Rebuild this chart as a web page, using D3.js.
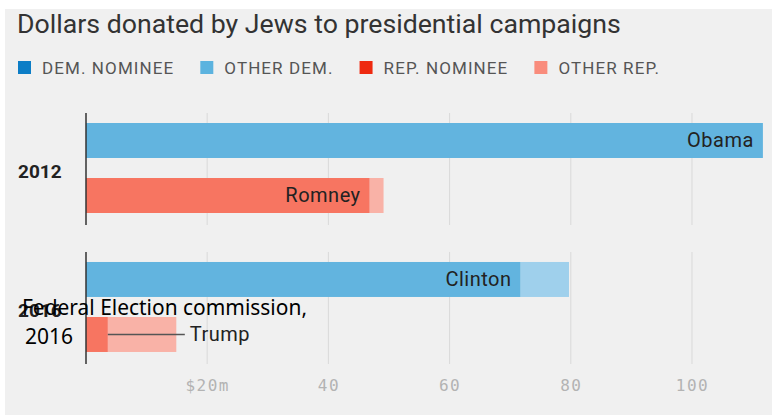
<!DOCTYPE html>
<html>
<head>
<meta charset="utf-8">
<script src="https://cdn.jsdelivr.net/npm/d3@7"></script>
<style>
  body { margin: 0; background: #fff; }
  svg { display: block; }
  .title { font-family: Roboto, sans-serif; font-size: 26.7px; fill: #333; }
  .legend text { font-family: Roboto, sans-serif; font-size: 17px; letter-spacing: 1.1px; fill: #555; }
  .year { font-family: Roboto, sans-serif; font-weight: bold; font-size: 19px; fill: #222; }
  .name { font-family: Roboto, sans-serif; font-size: 20px; letter-spacing: 0.5px; fill: #222; }
  .tick text { font-family: "DejaVu Sans Mono", monospace; font-size: 16px; fill: #b3b3b3; letter-spacing: 1.5px; }
  .note { font-family: "Noto Sans", sans-serif; font-size: 21px; fill: #000; }
</style>
</head>
<body>
<div id="chart"></div>
<script>
// data, in millions of dollars
var years = ["2012", "2016"]
var parties = ["dem", "rep"]
var nominees = ["Obama", "Romney", "Clinton", "Trump"]
var nomineeValues = [111.7, 46.8, 71.7, 3.6]
var otherValues = [0, 2.3, 8.0, 11.3]
var tickValues = [20, 40, 60, 80, 100]
var tickLabels = ["$20m", "40", "60", "80", "100"]

var legendLabels = ["DEM. NOMINEE", "OTHER DEM.", "REP. NOMINEE", "OTHER REP."]
var legendColors = ["#0c7dc6", "#5cb3df", "#ee2a10", "#f98c7c"]
// bars are the same hues, faded
var barColors = { dem: ["#62b4df", "#9fd0ec"], rep: ["#f77561", "#f9b2a7"] }

var width = 772, height = 415

var rows = []
nominees.forEach(function (n, i) {
  rows.push({
    year: years[Math.floor(i / 2)],
    party: parties[i % 2],
    name: n,
    nominee: nomineeValues[i],
    other: otherValues[i]
  })
})

var svg = d3.select("#chart").append("svg")
  .attr("width", width)
  .attr("height", height)

svg.append("rect")
  .attr("x", 5).attr("y", 9)
  .attr("width", width - 5).attr("height", height - 9)
  .attr("fill", "#f0f0f0")

svg.append("text")
  .attr("class", "title")
  .attr("x", 17).attr("y", 33)
  .text("Dollars donated by Jews to presidential campaigns")

// legend, laid out by text width
var legend = svg.append("g").attr("class", "legend")
var lx = 18
legendLabels.forEach(function (l, i) {
  legend.append("rect")
    .attr("x", lx).attr("y", 61)
    .attr("width", 13).attr("height", 13)
    .attr("fill", legendColors[i])
  var t = legend.append("text")
    .attr("x", lx + 24).attr("y", 74)
    .text(l)
  lx += 24 + t.node().getComputedTextLength() + 26
})

var x = d3.scaleLinear().domain([0, 100]).range([86, 692])

var yYear = d3.scaleBand().domain(years)
  .range([113, 364])
  .paddingInner(0.194)

var yParty = d3.scaleBand().domain(parties)
  .range([10, 100])
  .paddingInner(0.364)

var groups = svg.selectAll(".group")
  .data(years)
  .enter().append("g")
  .attr("class", "group")
  .attr("transform", function (d) { return "translate(0," + yYear(d) + ")" })

// gridlines
groups.selectAll(".grid")
  .data(tickValues)
  .enter().append("line")
  .attr("x1", function (d) { return x(d) })
  .attr("x2", function (d) { return x(d) })
  .attr("y1", 0)
  .attr("y2", yYear.bandwidth())
  .attr("stroke", "#d9d9d9")
  .attr("stroke-width", 1)

groups.append("text")
  .attr("class", "year")
  .attr("x", 18)
  .attr("y", yYear.bandwidth() / 2 + 9)
  .text(function (d) { return d })

var bars = groups.selectAll(".bar")
  .data(function (yr) { return rows.filter(function (r) { return r.year === yr }) })
  .enter().append("g")
  .attr("class", "bar")
  .attr("transform", function (d) { return "translate(0," + yParty(d.party) + ")" })

bars.append("rect")
  .attr("x", function (d) { return x(d.nominee) })
  .attr("width", function (d) { return x(d.nominee + d.other) - x(d.nominee) })
  .attr("height", yParty.bandwidth())
  .attr("fill", function (d) { return barColors[d.party][1] })

bars.append("rect")
  .attr("x", x(0))
  .attr("width", function (d) { return x(d.nominee) - x(0) })
  .attr("height", yParty.bandwidth())
  .attr("fill", function (d) { return barColors[d.party][0] })

// names inside the bar, or off to the side when the bar is too short
bars.each(function (d) {
  var g = d3.select(this)
  var inside = x(d.nominee) - x(0) > 90
  if (inside) {
    g.append("text")
      .attr("class", "name")
      .attr("x", x(d.nominee) - 9)
      .attr("y", yParty.bandwidth() / 2 + 7)
      .attr("text-anchor", "end")
      .text(d.name)
  } else {
    g.append("line")
      .attr("x1", x(d.nominee))
      .attr("x2", x(d.nominee) + 77)
      .attr("y1", yParty.bandwidth() / 2)
      .attr("y2", yParty.bandwidth() / 2)
      .attr("stroke", "#555")
      .attr("stroke-width", 1.5)
    g.append("text")
      .attr("class", "name")
      .attr("x", x(d.nominee) + 82)
      .attr("y", yParty.bandwidth() / 2 + 7)
      .text(d.name)
  }
})

// zero line
groups.append("line")
  .attr("x1", x(0)).attr("x2", x(0))
  .attr("y1", 0).attr("y2", yYear.bandwidth())
  .attr("stroke", "#333")
  .attr("stroke-width", 1.5)

var axis = d3.axisBottom(x)
  .tickValues(tickValues)
  .tickFormat(function (d, i) { return tickLabels[i] })
  .tickSize(0)
  .tickPadding(0)

var ax = svg.append("g")
  .attr("transform", "translate(0,380)")
  .call(axis)
ax.select(".domain").remove()
ax.selectAll(".tick text").attr("dy", "0.71em")

// source note pasted over the chart
var note = svg.append("text").attr("class", "note")
note.append("tspan")
  .attr("x", 22).attr("y", 315)
  .attr("textLength", 285)
  .attr("lengthAdjust", "spacingAndGlyphs")
  .text("Federal Election commission,")
note.append("tspan")
  .attr("x", 25).attr("y", 344)
  .text("2016")
</script>
</body>
</html>
